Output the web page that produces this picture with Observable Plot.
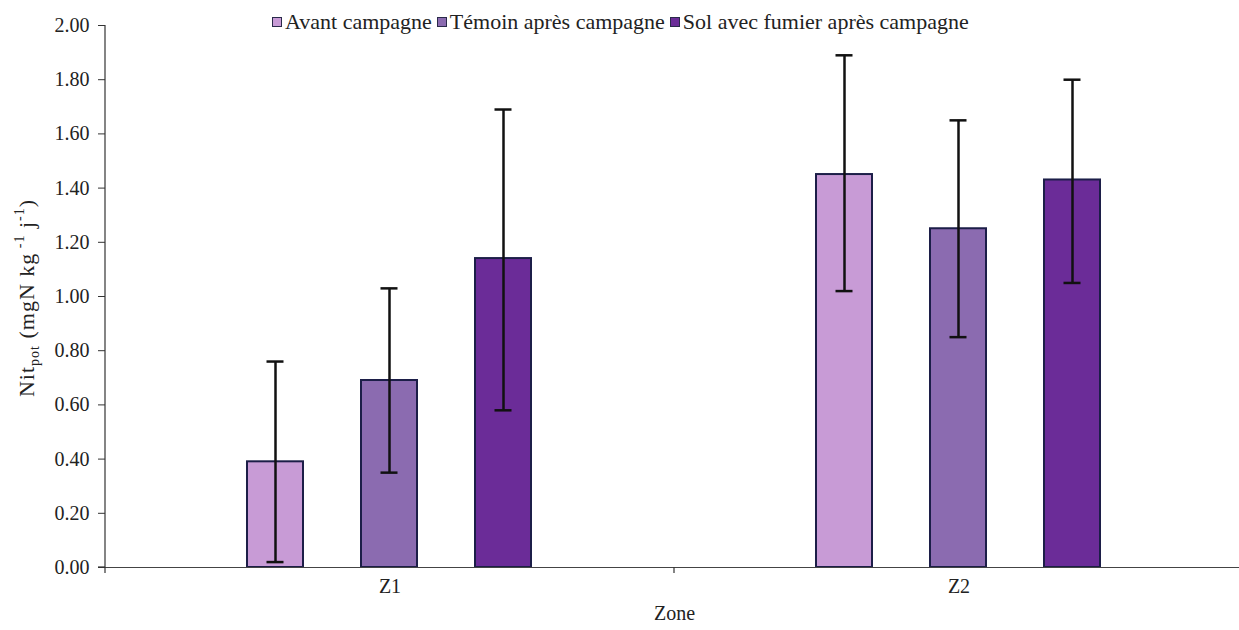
<!DOCTYPE html>
<html>
<head>
<meta charset="utf-8">
<script src="https://cdn.jsdelivr.net/npm/d3@7"></script>
<script src="https://cdn.jsdelivr.net/npm/@observablehq/plot@0.6"></script>
<style>
  html, body { margin: 0; padding: 0; background: #fff; }
  #wrap { position: relative; width: 1239px; height: 630px; font-family: 'Liberation Serif', 'Times New Roman', Times, Tinos, 'Noto Serif', 'DejaVu Serif', FreeSerif, serif; }
  #legend { position: absolute; top: 9px; left: 272px; display: flex; align-items: center; font-size: 22px; color: #222; white-space: nowrap; }
  #legend .item { display: flex; align-items: center; margin-right: 5px; }
  #legend .sw { width: 8px; height: 8px; border: 1px solid #2a2a4a; margin-right: 3px; }
  svg text { font-family: 'Liberation Serif', 'Times New Roman', Times, Tinos, 'Noto Serif', 'DejaVu Serif', FreeSerif, serif; }
</style>
</head>
<body>
<div id="wrap">
  <div id="chart"></div>
  <div id="legend"></div>
</div>
<script>
const zones = ["Z1", "Z2"];
const series = ["Avant campagne", "Témoin après campagne", "Sol avec fumier après campagne"];
const colors = ["#c89bd6", "#8b6bb0", "#6b2c98"];
// values per zone, in series order
const meanZ1 = [0.39, 0.69, 1.14];
const meanZ2 = [1.45, 1.25, 1.43];
const upperZ1 = [0.76, 1.03, 1.69];
const upperZ2 = [1.89, 1.65, 1.80];
const lowerZ1 = [0.02, 0.35, 0.58];
const lowerZ2 = [1.02, 0.85, 1.05];
const yTicks = [0, 0.2, 0.4, 0.6, 0.8, 1.0, 1.2, 1.4, 1.6, 1.8, 2.0];

const means = {Z1: meanZ1, Z2: meanZ2};
const uppers = {Z1: upperZ1, Z2: upperZ2};
const lowers = {Z1: lowerZ1, Z2: lowerZ2};
const data = zones.flatMap(z => series.map((s, i) => ({
  zone: z, series: s, value: means[z][i], hi: uppers[z][i], lo: lowers[z][i]
})));

const plot = Plot.plot({
  width: 1239,
  height: 630,
  marginLeft: 105,
  marginRight: -4,
  marginTop: 25,
  marginBottom: 63,
  style: {fontFamily: "'Liberation Serif', 'Times New Roman', Times, Tinos, 'Noto Serif', 'DejaVu Serif', FreeSerif, serif", fontSize: "20px", color: "#222", background: "#fff"},
  fx: {domain: zones, padding: 0, label: "Zone"},
  x: {domain: series, paddingInner: 0.491, paddingOuter: 1.24, axis: null},
  y: {domain: [0, 2], label: null},
  color: {domain: series, range: colors},
  marks: [
    Plot.axisY({ticks: yTicks, tickSize: 7, tickPadding: 9, tickFormat: d3.format(".2f"), stroke: "#333", label: null}),
    Plot.axisFx({anchor: "bottom", tickSize: 0, tickPadding: 11, label: "Zone", labelAnchor: "center", labelOffset: 52}),
    Plot.barY(data, {fx: "zone", x: "series", y: "value", fill: "series", stroke: "#1c1e48", strokeWidth: 2, insetLeft: 1, insetRight: 1}),
    Plot.ruleY([0], {stroke: "#444", strokeWidth: 1.2}),
    Plot.ruleX(data, {fx: "zone", x: "series", y1: "lo", y2: "hi", stroke: "#111", strokeWidth: 2.5}),
    Plot.tickY(data, {fx: "zone", x: "series", y: "hi", stroke: "#111", strokeWidth: 2.5, insetLeft: 20.5, insetRight: 20.5}),
    Plot.tickY(data, {fx: "zone", x: "series", y: "lo", stroke: "#111", strokeWidth: 2.5, insetLeft: 20.5, insetRight: 20.5})
  ]
});
document.getElementById("chart").appendChild(plot);

// axis lines and category divider ticks from the library's scales
const svg = d3.select(plot);
const fx = plot.scale("fx");
const ys = plot.scale("y");
const x0 = fx.range[0], x1 = fx.range[1];
const y0 = ys.range[0], yTop = ys.range[1];
const g = svg.append("g").attr("stroke", "#333").attr("stroke-width", 1.2);
g.append("line").attr("x1", x0).attr("x2", x0).attr("y1", yTop).attr("y2", y0 + 6);
g.append("line").attr("x1", x0 - 7).attr("x2", x0).attr("y1", y0).attr("y2", y0);
const step = (x1 - x0) / fx.domain.length;
for (let i = 1; i < fx.domain.length; i++) {
  const bx = x0 + step * i;
  g.append("line").attr("x1", bx).attr("x2", bx).attr("y1", y0).attr("y2", y0 + 6);
}

// y axis title with subscript / superscripts
const yl = svg.append("text")
  .attr("transform", `translate(34,${(y0 + yTop) / 2 + 2}) rotate(-90)`)
  .attr("text-anchor", "middle")
  .attr("fill", "#222")
  .style("font-size", "22px")
  .style("letter-spacing", "1px");
yl.append("tspan").text("Nit");
yl.append("tspan").attr("dy", 5).style("font-size", "14px").text("pot");
yl.append("tspan").attr("dy", -5).text(" (mgN kg");
yl.append("tspan").attr("dy", -10).style("font-size", "14px").text(" -1");
yl.append("tspan").attr("dy", 10).text(" j");
yl.append("tspan").attr("dy", -10).style("font-size", "14px").text("-1");
yl.append("tspan").attr("dy", 10).text(")");

// legend
const legend = d3.select("#legend");
series.forEach((s, i) => {
  const it = legend.append("div").attr("class", "item");
  it.append("div").attr("class", "sw").style("background", colors[i]);
  it.append("span").text(s);
});
</script>
</body>
</html>
